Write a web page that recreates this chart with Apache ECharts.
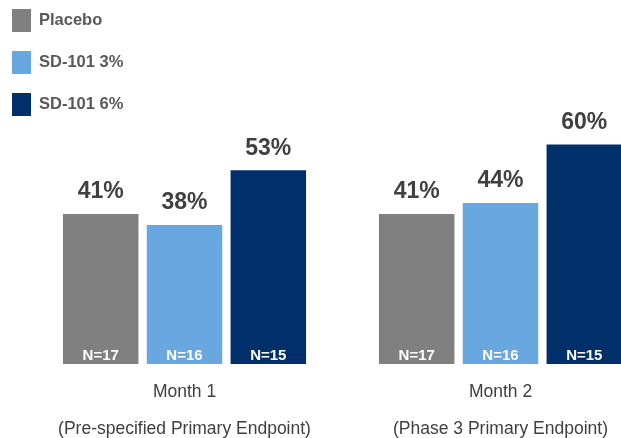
<!DOCTYPE html>
<html>
<head>
<meta charset="utf-8">
<script src="https://cdn.jsdelivr.net/npm/echarts@6/dist/echarts.min.js"></script>
<style>
  html, body { margin: 0; padding: 0; background: #fff; }
  #chart { width: 621px; height: 438px; }
</style>
</head>
<body>
<div id="chart"></div>
<script>
// categories and values
var months = ['Month 1', 'Month 2'];
var endpoints = ['(Pre-specified Primary Endpoint)', '(Phase 3 Primary Endpoint)'];
var seriesNames = ['Placebo', 'SD-101 3%', 'SD-101 6%'];
var placebo = [41, 41];
var sd3 = [38, 44];
var sd6 = [53, 60];
var nPlacebo = [17, 17];
var nSd3 = [16, 16];
var nSd6 = [15, 15];

var colors = ['#808080', '#68a7e0', '#00306a'];
var font = '"Liberation Sans", Arial, sans-serif';

var categories = months.map(function (m, i) { return m + '\n' + endpoints[i]; });
var values = [placebo, sd3, sd6];
var counts = [nPlacebo, nSd3, nSd6];

var chart = echarts.init(document.getElementById('chart'));

var series = [];
//数值柱
values.forEach(function (data, i) {
    series.push({
        name: seriesNames[i],
        type: 'bar',
        xAxisIndex: 0,
        data: data,
        barWidth: 75.5,
        barGap: '11%',
        itemStyle: { color: colors[i] },
        label: {
            show: true,
            position: 'top',
            distance: 10,
            formatter: '{c}%',
            color: '#404040',
            fontFamily: font,
            fontWeight: 'bold',
            fontSize: 23,
            lineHeight: 24
        }
    });
});
//N= 标签, 透明柱叠在上面
counts.forEach(function (data, i) {
    series.push({
        type: 'bar',
        xAxisIndex: 1,
        data: values[i],
        barWidth: 75.5,
        barGap: '11%',
        silent: true,
        itemStyle: { color: 'rgba(0,0,0,0)' },
        label: {
            show: true,
            position: 'insideBottom',
            distance: 1,
            formatter: function (p) { return 'N=' + data[p.dataIndex]; },
            color: '#ffffff',
            fontFamily: font,
            fontWeight: 'bold',
            fontSize: 15
        }
    });
});

chart.setOption({
    animation: false,
    color: colors,
    legend: {
        data: seriesNames,
        orient: 'vertical',
        left: 7,
        top: 4,
        icon: 'rect',
        itemWidth: 19,
        itemHeight: 23,
        itemGap: 19,
        textStyle: {
            color: '#595959',
            fontFamily: font,
            fontWeight: 'bold',
            fontSize: 16.5,
            padding: [0, 0, 0, 3]
        }
    },
    // 右边被裁掉, 用固定宽度
    grid: { left: 26.5, width: 632, top: 108, bottom: 74, outerBoundsMode: 'none', containLabel: false },
    xAxis: [{
        type: 'category',
        data: categories,
        axisLine: { show: false },
        axisTick: { show: false },
        axisLabel: {
            interval: 0,
            hideOverlap: false,
            margin: 10,
            color: '#404040',
            fontFamily: font,
            fontSize: 17.5,
            lineHeight: 37
        }
    }, {
        type: 'category',
        data: categories,
        show: false
    }],
    yAxis: {
        type: 'value',
        min: 0,
        max: 70,
        show: false
    },
    series: series
});
</script>
</body>
</html>
